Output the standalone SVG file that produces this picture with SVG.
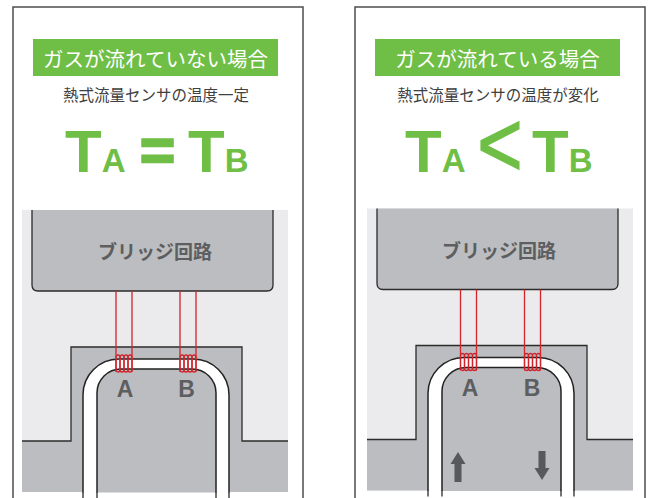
<svg xmlns="http://www.w3.org/2000/svg" width="649" height="498" viewBox="0 0 649 498">
  <style>
    .frame { fill: #ffffff; stroke: #4d4d4d; stroke-width: 1.5; }
    .title-bg { fill: #6fbe46; }
    .title { fill: #ffffff; font-family: "Noto Sans CJK JP", "Noto Sans", sans-serif; font-size: 20.5px; text-anchor: middle; dominant-baseline: central; }
    .sub { fill: #404040; font-family: "Noto Sans CJK JP", "Noto Sans", sans-serif; font-size: 15.5px; text-anchor: middle; dominant-baseline: central; }
    .eq { fill: #6fbe46; font-family: "Liberation Sans", Arial, sans-serif; font-weight: bold; font-size: 60px; }
    .op { stroke: #6fbe46; stroke-width: 2.4; text-anchor: middle; }
    .lt { font-weight: normal; stroke-width: 1.2; font-size: 72px; }
    .room { fill: #ebebed; }
    .block { fill: #bcbdc0; stroke: #2b2b2b; stroke-width: 1.3; }
    .base { fill: #bcbdc0; }
    .edge { fill: none; stroke: #2b2b2b; stroke-width: 1.3; }
    .pipe-out { fill: #ffffff; stroke: #222222; stroke-width: 1.5; }
    .pipe-in { fill: #bcbdc0; stroke: #222222; stroke-width: 1.5; }
    .bridge-label { fill: #5d5e60; font-family: "Noto Sans CJK JP", "Noto Sans", sans-serif; font-weight: bold; font-size: 19px; text-anchor: middle; dominant-baseline: central; }
    .pt { fill: #5d5e60; font-family: "Liberation Sans", Arial, sans-serif; font-weight: bold; font-size: 23px; text-anchor: middle; }
    .wire { fill: none; stroke: #d2232a; stroke-width: 1.3; }
    .arrow { fill: #58595b; }
  </style>
  <defs>
    <!-- heater/sensor coil wound round the pipe -->
    <g id="coil">
      <rect class="wire" x="0" y="0" width="4" height="17" rx="2"/>
      <rect class="wire" x="4" y="0" width="4" height="17" rx="2"/>
      <rect class="wire" x="8" y="0" width="4" height="17" rx="2"/>
      <rect class="wire" x="12" y="0" width="4" height="17" rx="2"/>
    </g>
    <!-- sensor body: housing, pipe and bridge circuit -->
    <g id="sensor-body">
      <rect class="room" x="22" y="210" width="266" height="282"/>
      <path class="block" d="M32,210 V285 Q32,291 38,291 H267 Q273,291 273,285 V210"/>
      <path class="base" d="M22,441 H71 V347 H242 V441 H288 V492 H22 Z"/>
      <path class="edge" d="M22,441 H71 V347 H242 V441 H288"/>
      <path class="pipe-out" d="M83,498 V395 A36,36 0 0 1 119,359 H193 A36,36 0 0 1 229,395 V498"/>
      <path class="pipe-in" d="M97,498 V393 A24,24 0 0 1 121,369 H192 A24,24 0 0 1 216,393 V498"/>
      <rect x="20" y="492.5" width="270" height="6" fill="#ffffff"/>
      <path class="edge" d="M83,492 V498 M97,492 V498 M216,492 V498 M229,492 V498"/>
    </g>
  </defs>

  <!-- left panel: no gas flow -->
  <g id="panel-still">
    <path class="frame" d="M13,498 V7 H303 V498"/>
    <rect class="title-bg" x="33" y="39" width="245" height="37"/>
    <text class="title" x="155.5" y="57.5">ガスが流れていない場合</text>
    <text class="sub" x="156" y="94">熱式流量センサの温度一定</text>
    <text class="eq" x="65" y="172">T<tspan font-size="33">A</tspan></text>
    <text class="eq op" x="157.5" y="170" font-size="56">=</text>
    <text class="eq" x="188" y="172">T<tspan font-size="33">B</tspan></text>
  </g>
  <g id="sensor-still">
    <use href="#sensor-body"/>
  </g>
  <g id="bridge-still">
    <text class="bridge-label" x="155" y="250">ブリッジ回路</text>
  </g>
  <g id="coil-a-still">
    <use href="#coil" x="116" y="355"/>
    <text class="pt" x="125" y="397">A</text>
  </g>
  <g id="coil-b-still">
    <use href="#coil" x="180" y="355"/>
    <text class="pt" x="186.5" y="397">B</text>
  </g>

  <!-- right panel: gas flowing -->
  <g id="panel-flow">
    <path class="frame" d="M355,498 V7 H645 V498"/>
    <rect class="title-bg" x="375" y="39" width="245" height="37"/>
    <text class="title" x="497.5" y="57.5">ガスが流れている場合</text>
    <text class="sub" x="498" y="94">熱式流量センサの温度が変化</text>
    <text class="eq" x="405" y="172">T<tspan font-size="33">A</tspan></text>
    <text class="eq op lt" transform="translate(500,176) scale(1.08,1.28)" x="0" y="0">&lt;</text>
    <text class="eq" x="532" y="172">T<tspan font-size="33">B</tspan></text>
  </g>
  <g id="sensor-flow" transform="translate(345,-1.5)">
    <use href="#sensor-body"/>
  </g>
  <g id="bridge-flow">
    <text class="bridge-label" x="499" y="249">ブリッジ回路</text>
  </g>
  <g id="coil-a-flow">
    <use href="#coil" x="460.5" y="353.5"/>
    <text class="pt" x="470" y="396">A</text>
  </g>
  <g id="coil-b-flow">
    <use href="#coil" x="524.5" y="353.5"/>
    <text class="pt" x="532" y="396">B</text>
  </g>

  <!-- leads from the bridge circuit to each coil -->
  <g id="connectors">
    <path class="wire" d="M116,291 V372 M132,291 V372 M180,291 V372 M196,291 V372"/>
    <path class="wire" d="M460.5,289.5 V370.5 M476.5,289.5 V370.5 M524.5,289.5 V370.5 M540.5,289.5 V370.5"/>
  </g>

  <!-- gas flow direction -->
  <g id="flow-arrows">
    <path class="arrow" d="M458,452 L465.5,464 H461.5 V482 H454.5 V464 H450.5 Z"/>
    <path class="arrow" d="M542,480 L549.5,468 H545.5 V451 H538.5 V468 H534.5 Z"/>
  </g>
</svg>
